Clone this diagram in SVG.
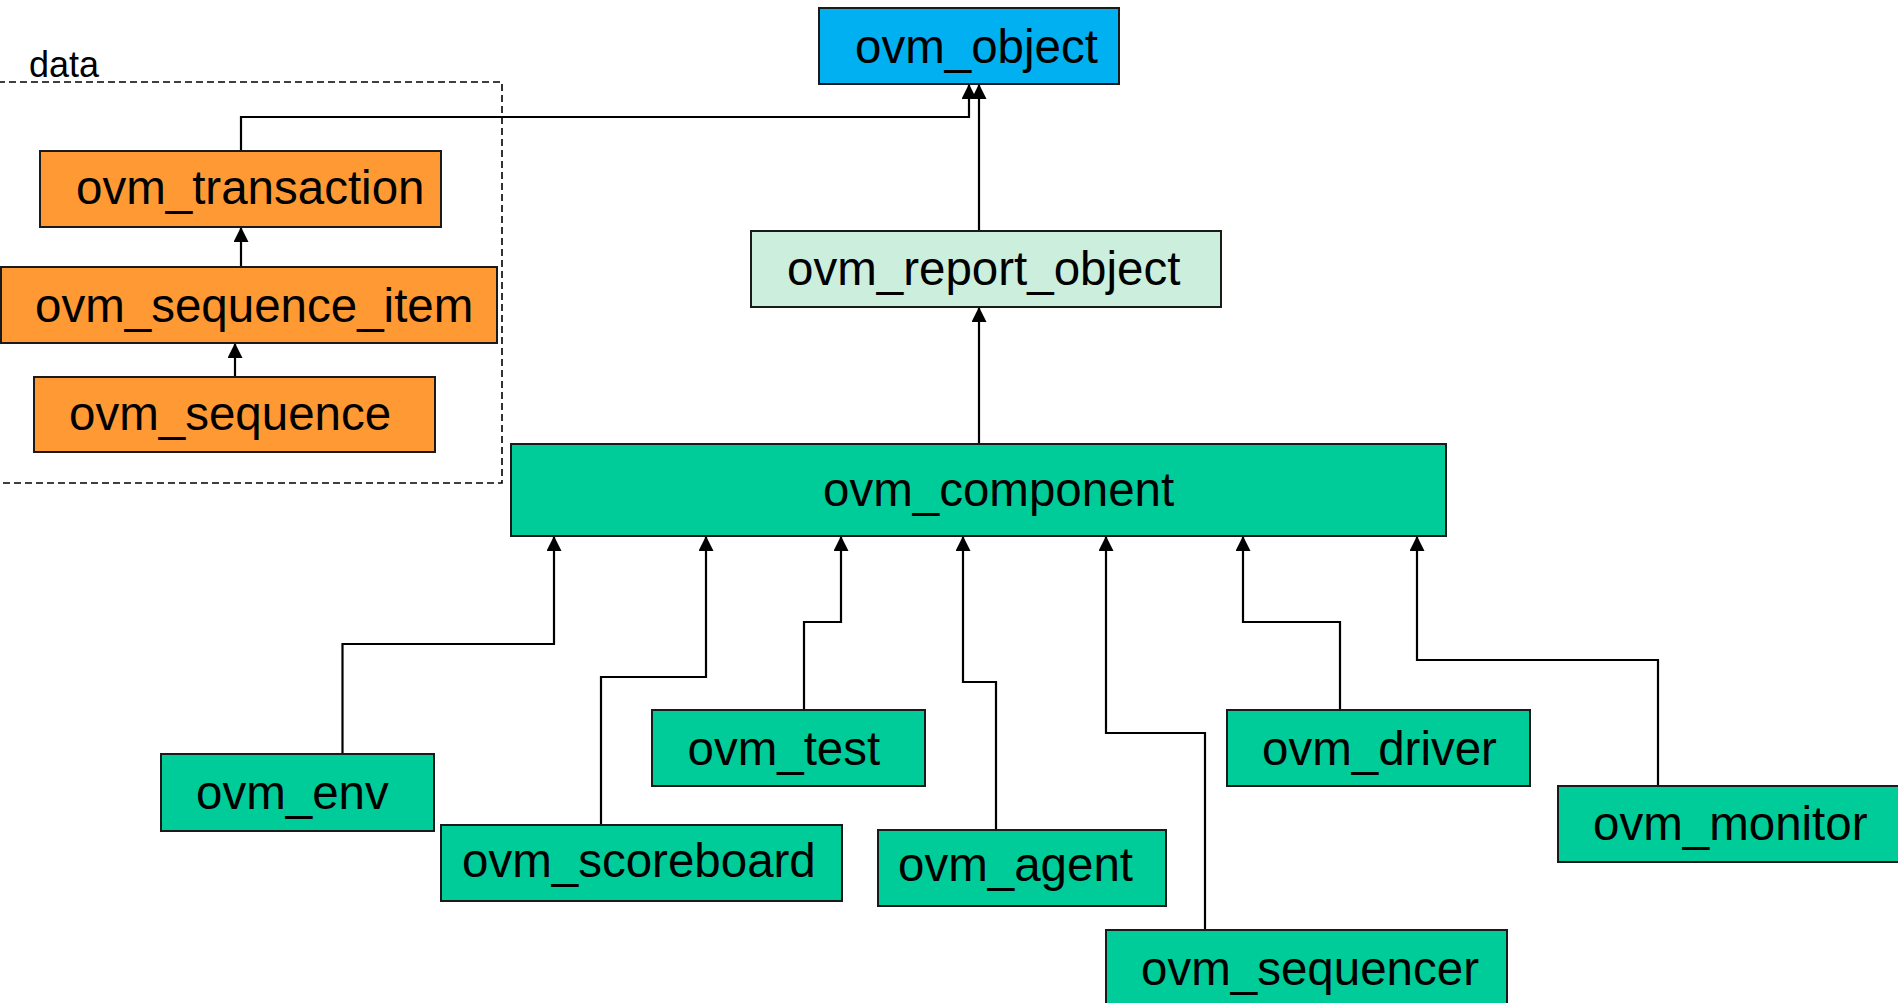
<svg xmlns="http://www.w3.org/2000/svg" width="1898" height="1003" viewBox="0 0 1898 1003">
<style>
.box{stroke:#1a1a1a;stroke-width:2}
.orange{fill:#FF9933}
.blue{fill:#00B0F0}
.mint{fill:#CCEEDD}
.green{fill:#00CC99}
.lbl{font-family:"Liberation Sans",Arial,sans-serif;font-size:47.5px;fill:#000}
.conn{fill:none;stroke:#000;stroke-width:2.2;marker-end:url(#arr)}
</style>
<defs>
<marker id="arr" viewBox="0 0 15 15" refX="15" refY="7.5" markerWidth="15" markerHeight="15" markerUnits="userSpaceOnUse" orient="auto">
<path d="M0,0 L15,7.5 L0,15 z" fill="#000"/>
</marker>
</defs>
<rect width="1898" height="1003" fill="#fff"/>
<g id="data-group">
<path d="M-2,82 H502 V483 H-2" fill="none" stroke="#000" stroke-width="1.6" stroke-dasharray="7,4"/>
<text x="29" y="77" font-family="Liberation Sans, Arial, sans-serif" font-size="36" fill="#000">data</text>
</g>
<g id="connectors">
<path class="conn" d="M241,151 V117 H969 V84"/>
<path class="conn" d="M979,231 V84"/>
<path class="conn" d="M241,267 V227"/>
<path class="conn" d="M235,377 V343"/>
<path class="conn" d="M979,444 V307"/>
<path class="conn" d="M342.5,754 V644 H554 V536"/>
<path class="conn" d="M601,825 V677 H706 V536"/>
<path class="conn" d="M804,710 V622 H841 V536"/>
<path class="conn" d="M996,830 V682 H963 V536"/>
<path class="conn" d="M1205,930 V733 H1106 V536"/>
<path class="conn" d="M1340,710 V622 H1243 V536"/>
<path class="conn" d="M1658,786 V660 H1417 V536"/>
</g>
<g id="ovm_object"><rect class="box blue" x="819" y="8" width="300" height="76"/><text class="lbl" x="855" y="63">ovm_object</text></g>
<g id="ovm_report_object"><rect class="box mint" x="751" y="231" width="470" height="76"/><text class="lbl" x="787" y="285">ovm_report_object</text></g>
<g id="ovm_component"><rect class="box green" x="511" y="444" width="935" height="92"/><text class="lbl" x="823" y="506">ovm_component</text></g>
<g id="ovm_transaction"><rect class="box orange" x="40" y="151" width="401" height="76"/><text class="lbl" x="76" y="204">ovm_transaction</text></g>
<g id="ovm_sequence_item"><rect class="box orange" x="1" y="267" width="496" height="76"/><text class="lbl" x="35" y="322">ovm_sequence_item</text></g>
<g id="ovm_sequence"><rect class="box orange" x="34" y="377" width="401" height="75"/><text class="lbl" x="69" y="430">ovm_sequence</text></g>
<g id="ovm_env"><rect class="box green" x="161" y="754" width="273" height="77"/><text class="lbl" x="196" y="809">ovm_env</text></g>
<g id="ovm_scoreboard"><rect class="box green" x="441" y="825" width="401" height="76"/><text class="lbl" x="462" y="877">ovm_scoreboard</text></g>
<g id="ovm_test"><rect class="box green" x="652" y="710" width="273" height="76"/><text class="lbl" x="687.5" y="765">ovm_test</text></g>
<g id="ovm_agent"><rect class="box green" x="878" y="830" width="288" height="76"/><text class="lbl" x="898" y="881">ovm_agent</text></g>
<g id="ovm_sequencer"><rect class="box green" x="1106" y="930" width="401" height="76"/><text class="lbl" x="1141" y="985">ovm_sequencer</text></g>
<g id="ovm_driver"><rect class="box green" x="1227" y="710" width="303" height="76"/><text class="lbl" x="1262" y="765">ovm_driver</text></g>
<g id="ovm_monitor"><rect class="box green" x="1558" y="786" width="401" height="76"/><text class="lbl" x="1593" y="840">ovm_monitor</text></g>
</svg>
